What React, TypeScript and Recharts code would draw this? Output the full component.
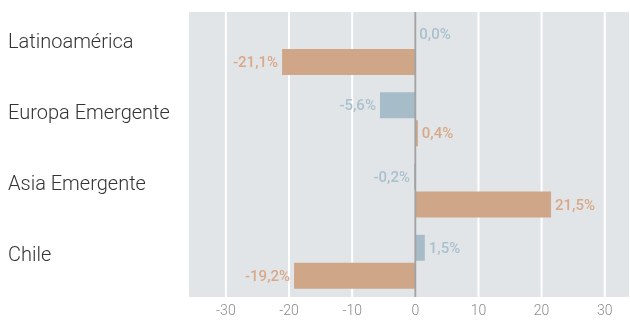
import React from 'react';
import { BarChart, Bar, XAxis, YAxis, CartesianGrid, ReferenceLine } from 'recharts';

const categories = ['Latinoamérica', 'Europa Emergente', 'Asia Emergente', 'Chile'];
const serieA = [0.0, -5.6, -0.2, 1.5];
const serieB = [-21.1, 0.4, 21.5, -19.2];
const xTicks = [-30, -20, -10, 0, 10, 20, 30];

const chartData = categories.map((name, i) => ({ name, a: serieA[i], b: serieB[i] }));

const fmt = (v: number) => v.toFixed(1).replace('.', ',') + '%';

// bar + value label drawn together so zero-width bars still get their label
const makeShape = (fill: string, labelColor: string, key: 'a' | 'b') => (props: any) => {
  const { x, y, width, height, payload } = props;
  const value: number = payload[key];
  const neg = value < 0;
  const left = Math.min(x, x + width);
  const right = Math.max(x, x + width);
  const w = Math.abs(width);
  return (
    <g>
      {w > 0 && <rect x={left} y={y} width={w} height={height} fill={fill} />}
      <text
        x={neg ? left - 4 : right + 4}
        y={y + height / 2}
        dy={5}
        textAnchor={neg ? 'end' : 'start'}
        fill={labelColor}
        fontSize={15}
        fontWeight={500}
        fontFamily="Roboto"
      >
        {fmt(value)}
      </text>
    </g>
  );
};

const CategoryTick = (props: any) => {
  const { y, payload } = props;
  return (
    <text x={8} y={y} textAnchor="start" fill="#333" fontSize={20} fontWeight={300} fontFamily="Roboto">
      {payload.value}
    </text>
  );
};

export default function App() {
  return (
    <div style={{ position: 'fixed', left: 0, top: 0 }}>
      <BarChart
        width={630}
        height={320}
        data={chartData}
        layout="vertical"
        margin={{ top: 12, right: 0, left: 8, bottom: 0 }}
        barSize={26}
        barGap={2}
      >
        <CartesianGrid horizontal={false} stroke="#ffffff" strokeWidth={2} fill="#e2e5e8" />
        <XAxis
          type="number"
          domain={[-36, 34]}
          ticks={xTicks}
          axisLine={false}
          tickLine={false}
          height={23}
          tick={{ fill: '#8a8a8a', fontSize: 14, fontWeight: 300, fontFamily: 'Roboto' }}
        />
        <YAxis type="category" dataKey="name" width={180} axisLine={false} tickLine={false} tick={<CategoryTick />} />
        <ReferenceLine x={0} stroke="#a3a3a3" strokeWidth={2} />
        <Bar dataKey="a" isAnimationActive={false} shape={makeShape('#a6bcc8', '#a9c0cd', 'a')} />
        <Bar dataKey="b" isAnimationActive={false} shape={makeShape('#cfa688', '#d9a888', 'b')} />
      </BarChart>
    </div>
  );
}
